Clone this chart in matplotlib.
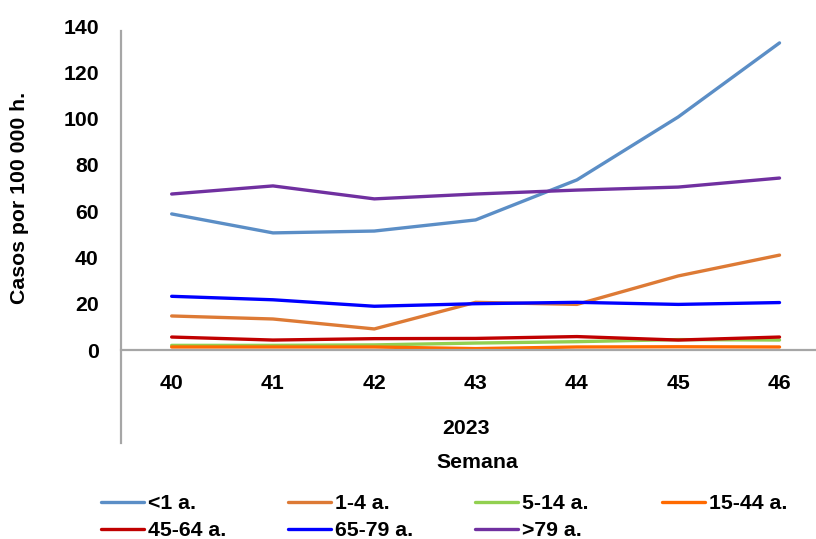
import matplotlib.pyplot as plt
from matplotlib.lines import Line2D

plt.rcParams['font.family'] = ['Liberation Sans', 'DejaVu Sans']
plt.rcParams['font.weight'] = 'bold'

semanas = ['40', '41', '42', '43', '44', '45', '46']
anio = '2023'

grupos = ['<1 a.', '1-4 a.', '5-14 a.', '15-44 a.', '45-64 a.', '65-79 a.', '>79 a.']
colores = ['#5B8EC6', '#DD7A35', '#92D050', '#FF6A00', '#C00000', '#0000FF', '#7030A0']

menor1 = [58.8, 50.6, 51.4, 56.2, 73.5, 100.7, 132.7]
de1a4 = [14.7, 13.4, 9.1, 20.6, 19.7, 32.0, 41.0]
de5a14 = [2.0, 2.0, 2.2, 3.0, 3.6, 4.5, 4.3]
de15a44 = [1.3, 1.3, 1.3, 0.6, 1.3, 1.4, 1.3]
de45a64 = [5.6, 4.3, 4.9, 5.0, 5.8, 4.3, 5.6]
de65a79 = [23.2, 21.7, 18.9, 20.0, 20.6, 19.7, 20.5]
mayor79 = [67.4, 70.9, 65.3, 67.4, 69.1, 70.4, 74.3]

series = [menor1, de1a4, de5a14, de15a44, de45a64, de65a79, mayor79]

W, H = 816, 539
fs = 15.3
fig = plt.figure(figsize=(W / 100, H / 100), dpi=100)
ax = fig.add_axes([121 / W, 1 - 350 / H, (W - 121) / W, 324 / H])

x = list(range(len(semanas)))
handles = []
for vals, nombre, col in zip(series, grupos, colores):
    h, = ax.plot(x, vals, color=col, lw=2.4, label=nombre, solid_capstyle='round')
    handles.append(h)

ax.set_ylim(0, 140)
ax.set_xlim(-0.5, 6.36)
ax.set_yticks(range(0, 141, 20))
ax.set_xticks(x)
ax.set_xticklabels(semanas)
ax.tick_params(axis='both', length=0, labelsize=fs)
ax.tick_params(axis='x', pad=17)
ax.tick_params(axis='y', pad=16)
for lab in ax.get_xticklabels() + ax.get_yticklabels():
    lab.set_fontweight('bold')

for s in ['top', 'right', 'left']:
    ax.spines[s].set_visible(False)
ax.spines['bottom'].set_color('#A6A6A6')
ax.spines['bottom'].set_linewidth(1.6)

# eje vertical prolongado hasta la etiqueta del grupo
fig.add_artist(Line2D([121 / W, 121 / W], [1 - 31 / H, 1 - 443 / H],
                      color='#A6A6A6', lw=1.6))

fig.text(466 / W, 1 - 428 / H, anio, ha='center', va='center', fontsize=fs, fontweight='bold')
fig.text(477 / W, 1 - 462 / H, 'Semana', ha='center', va='center', fontsize=fs, fontweight='bold')
fig.text(20 / W, 1 - 198 / H, 'Casos por 100 000 h.', rotation=90, ha='center', va='center',
         fontsize=fs, fontweight='bold')

# leyenda en 4 columnas de igual ancho
columnas = [[0, 4], [1, 5], [2, 6], [3]]
for i, idx in enumerate(columnas):
    leg = fig.legend([handles[k] for k in idx], [grupos[k] for k in idx],
                     loc='upper left', bbox_to_anchor=((101 + 187 * i) / W, 1 - 494 / H),
                     frameon=False, fontsize=fs, handlelength=2.0, handletextpad=0.2,
                     labelspacing=0.38, borderaxespad=0, borderpad=0)
    for t in leg.get_texts():
        t.set_fontweight('bold')

fig.savefig('out.png', dpi=100)
